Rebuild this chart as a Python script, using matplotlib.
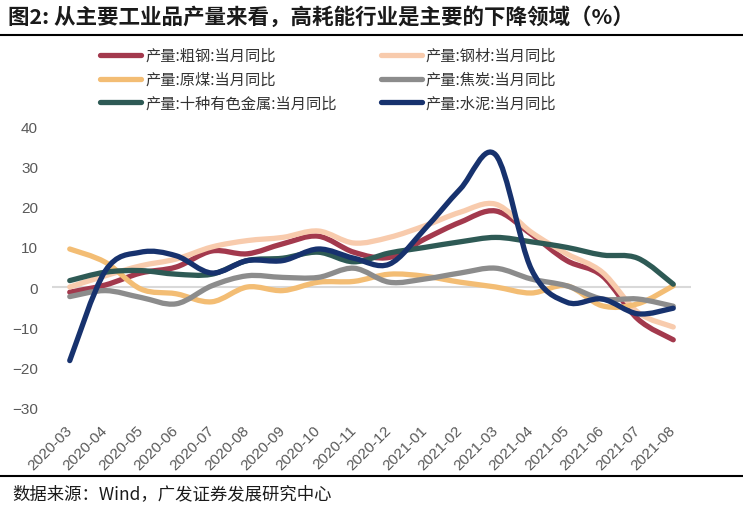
import matplotlib
matplotlib.use("Agg")
import matplotlib.pyplot as plt
from matplotlib.path import Path
from matplotlib.patches import PathPatch
from matplotlib.lines import Line2D
import numpy as np

plt.rcParams['font.family'] = ['Noto Sans CJK SC', 'DejaVu Sans']

months = ['2020-03', '2020-04', '2020-05', '2020-06', '2020-07', '2020-08',
          '2020-09', '2020-10', '2020-11', '2020-12', '2021-01', '2021-02',
          '2021-03', '2021-04', '2021-05', '2021-06', '2021-07', '2021-08']

crude_steel = [-1.3, 0.5, 3.5, 5.0, 9.0, 8.3, 10.8, 12.7, 8.7, 7.4, 12.0, 16.2, 19.0, 13.2, 6.6, 2.8, -8.0, -13.2]
steel_products = [0.0, 2.8, 5.3, 7.0, 10.0, 11.6, 12.4, 14.0, 11.0, 12.4, 15.3, 18.7, 20.7, 13.7, 8.3, 3.7, -6.3, -10.0]
raw_coal = [9.5, 6.2, -0.5, -1.7, -3.7, 0.0, -0.9, 1.2, 1.4, 3.2, 2.7, 1.2, 0.0, -1.5, 0.3, -4.7, -4.2, 0.3]
coke = [-2.4, -0.9, -2.6, -4.2, 0.3, 2.8, 2.4, 2.4, 4.7, 1.2, 2.0, 3.5, 4.7, 2.0, 0.3, -3.0, -3.0, -4.8]
ten_metals = [1.6, 3.7, 4.1, 3.2, 3.2, 6.6, 7.2, 8.7, 6.3, 8.5, 9.9, 11.3, 12.4, 11.3, 9.9, 8.0, 7.2, 0.7]
cement = [-18.4, 4.0, 8.7, 7.8, 3.5, 6.6, 6.6, 9.5, 7.2, 5.7, 14.5, 24.5, 33.0, 4.5, -3.8, -3.0, -6.7, -5.3]

series_names = ['产量:粗钢:当月同比', '产量:钢材:当月同比', '产量:原煤:当月同比',
                '产量:焦炭:当月同比', '产量:十种有色金属:当月同比', '产量:水泥:当月同比']
series_values = [crude_steel, steel_products, raw_coal, coke, ten_metals, cement]
colors = ['#A3394D', '#F8CBAD', '#F3BD74', '#8C8C8C', '#2E5A55', '#17326E']

W, H = 743, 510
fig = plt.figure(figsize=(W / 100, H / 100), dpi=100)
ax = fig.add_axes([52 / W, 1 - 408 / H, (691 - 52) / W, (408 - 128) / H])

x = np.arange(len(months))


def smooth_path(xs, ys):
    pts = np.column_stack([xs, ys]).astype(float)
    n = len(pts)
    verts = [pts[0]]
    codes = [Path.MOVETO]
    for i in range(n - 1):
        p0 = pts[i - 1] if i > 0 else pts[i]
        p1 = pts[i]
        p2 = pts[i + 1]
        p3 = pts[i + 2] if i + 2 < n else pts[i + 1]
        c1 = p1 + (p2 - p0) / 6.0
        c2 = p2 - (p3 - p1) / 6.0
        verts += [c1, c2, p2]
        codes += [Path.CURVE4] * 3
    return Path(verts, codes)


ax.axhline(0, color='#D9D9D9', lw=1.5, zorder=1)

handles = []
for name, vals, c in zip(series_names, series_values, colors):
    patch = PathPatch(smooth_path(x, vals), facecolor='none', edgecolor=c,
                      lw=3.8, capstyle='round', joinstyle='round', zorder=3)
    ax.add_patch(patch)
    handles.append(Line2D([], [], color=c, lw=3.8, solid_capstyle='round', label=name))

ax.set_xlim(-0.5, len(months) - 0.5)
ax.set_ylim(-30, 40)
ax.set_yticks(range(-30, 41, 10))
ax.set_xticks(x)
ax.set_xticklabels(months, rotation=45, ha='right', va='center',
                   rotation_mode='anchor', family=['Liberation Sans', 'DejaVu Sans'])
for lab in ax.get_yticklabels():
    lab.set_family(['Liberation Sans', 'DejaVu Sans'])
ax.tick_params(axis='x', length=0, pad=15, labelsize=11, labelcolor='#595959')
ax.tick_params(axis='y', length=0, pad=10, labelsize=11, labelcolor='#595959')
for s in ax.spines.values():
    s.set_visible(False)

order = [0, 2, 4, 1, 3, 5]
fig.legend([handles[i] for i in order], [series_names[i] for i in order],
           ncol=2, loc='upper left', bbox_to_anchor=(100 / W, 1 - 48 / H),
           frameon=False, fontsize=11, handlelength=2.7, handletextpad=0.25,
           columnspacing=2.9, labelspacing=0.45, borderpad=0, borderaxespad=0,
           labelcolor='#333333')

fig.text(8 / W, 1 - 17 / H, '图2: 从主要工业品产量来看，高耗能行业是主要的下降领域（%）',
         fontsize=15.5, fontweight='bold', color='#1A1A1A', va='center', ha='left')
fig.add_artist(Line2D([0, 1], [1 - 36 / H, 1 - 36 / H], transform=fig.transFigure,
                      color='black', lw=1.5))
fig.add_artist(Line2D([0, 1], [1 - 477 / H, 1 - 477 / H], transform=fig.transFigure,
                      color='black', lw=1.5))
fig.text(12 / W, 1 - 494 / H, '数据来源：Wind，广发证券发展研究中心',
         fontsize=12.5, color='#1A1A1A', va='center', ha='left')

fig.savefig('out.png', dpi=100)
